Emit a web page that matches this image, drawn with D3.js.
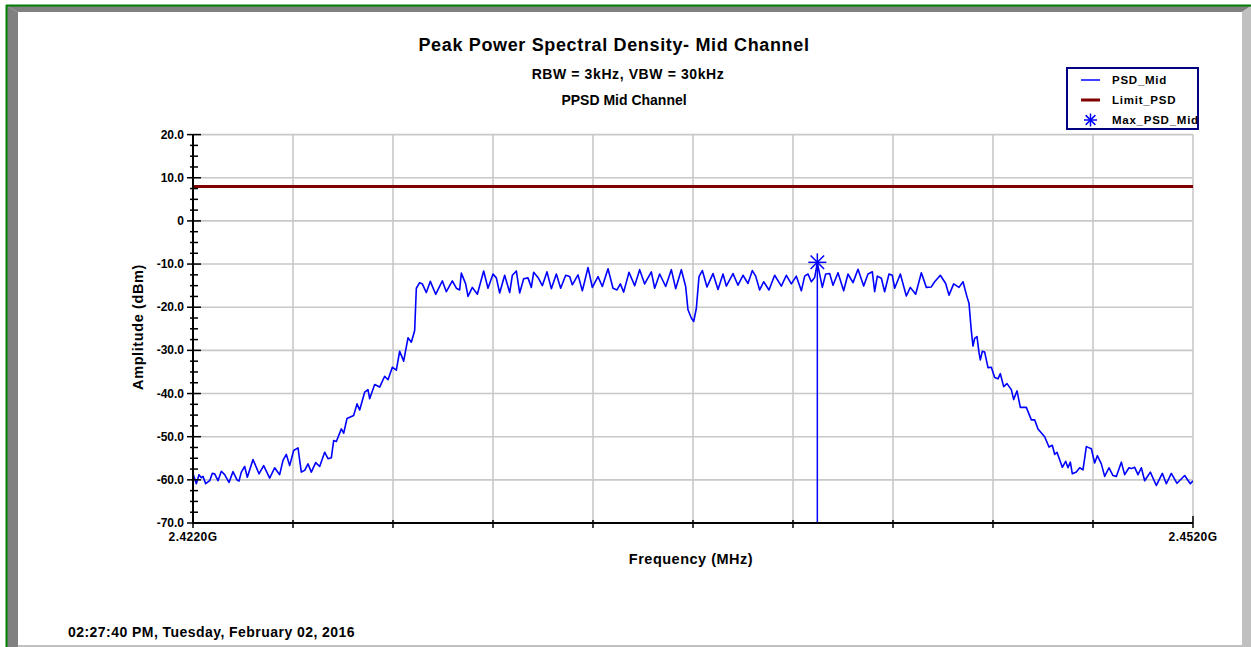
<!DOCTYPE html>
<html>
<head>
<meta charset="utf-8">
<script src="https://cdn.jsdelivr.net/npm/d3@7"></script>
<style>
  body { margin: 0; background: #ffffff; }
  svg { display: block; font-family: "Liberation Sans", Arial, sans-serif; font-weight: bold; }
</style>
</head>
<body>
<svg width="1251" height="647"></svg>
<script>
const freqMHz = [
  2422.00, 2422.10, 2422.18, 2422.25, 2422.30, 2422.38, 2422.50, 2422.58, 2422.65, 2422.75,
  2422.85, 2422.95, 2423.08, 2423.20, 2423.32, 2423.38, 2423.45, 2423.55, 2423.63, 2423.80,
  2423.98, 2424.12, 2424.30, 2424.45, 2424.60, 2424.70, 2424.80, 2424.90, 2425.02, 2425.15,
  2425.25, 2425.35, 2425.45, 2425.55, 2425.68, 2425.80, 2425.95, 2426.05, 2426.15, 2426.22,
  2426.30, 2426.45, 2426.52, 2426.62, 2426.82, 2426.92, 2427.00, 2427.15, 2427.25, 2427.30,
  2427.45, 2427.60, 2427.75, 2427.85, 2427.98, 2428.10, 2428.20, 2428.32, 2428.45, 2428.55,
  2428.65, 2428.70, 2428.80, 2428.88, 2429.00, 2429.12, 2429.28, 2429.48, 2429.60, 2429.78,
  2429.90, 2430.00, 2430.05, 2430.18, 2430.25, 2430.38, 2430.53, 2430.72, 2430.85, 2431.00,
  2431.10, 2431.20, 2431.35, 2431.50, 2431.58, 2431.70, 2431.80, 2431.92, 2432.05, 2432.15,
  2432.22, 2432.35, 2432.48, 2432.62, 2432.75, 2432.90, 2433.03, 2433.18, 2433.30, 2433.38,
  2433.55, 2433.68, 2433.85, 2433.98, 2434.15, 2434.28, 2434.45, 2434.60, 2434.72, 2434.82,
  2434.92, 2435.08, 2435.25, 2435.40, 2435.55, 2435.75, 2435.85, 2436.00, 2436.18, 2436.35,
  2436.48, 2436.65, 2436.78, 2436.85, 2436.95, 2437.02, 2437.10, 2437.18, 2437.28, 2437.42,
  2437.60, 2437.75, 2437.90, 2438.00, 2438.20, 2438.35, 2438.50, 2438.65, 2438.78, 2438.88,
  2439.00, 2439.12, 2439.28, 2439.45, 2439.65, 2439.80, 2439.95, 2440.10, 2440.25, 2440.35,
  2440.45, 2440.55, 2440.65, 2440.73, 2440.88, 2440.98, 2441.10, 2441.20, 2441.35, 2441.52,
  2441.65, 2441.80, 2441.95, 2442.12, 2442.25, 2442.38, 2442.45, 2442.53, 2442.65, 2442.75,
  2442.88, 2442.98, 2443.05, 2443.22, 2443.40, 2443.52, 2443.68, 2443.85, 2444.00, 2444.15,
  2444.25, 2444.42, 2444.58, 2444.68, 2444.82, 2444.98, 2445.10, 2445.22, 2445.28, 2445.35,
  2445.40, 2445.45, 2445.52, 2445.58, 2445.62, 2445.68, 2445.75, 2445.85, 2445.95, 2446.05,
  2446.15, 2446.22, 2446.32, 2446.42, 2446.55, 2446.62, 2446.72, 2446.82, 2447.00, 2447.15,
  2447.25, 2447.35, 2447.55, 2447.68, 2447.78, 2447.85, 2447.92, 2448.08, 2448.18, 2448.25,
  2448.32, 2448.38, 2448.50, 2448.60, 2448.70, 2448.80, 2448.95, 2449.05, 2449.13, 2449.25,
  2449.35, 2449.48, 2449.60, 2449.70, 2449.85, 2449.95, 2450.08, 2450.15, 2450.25, 2450.35,
  2450.45, 2450.55, 2450.72, 2450.90, 2451.08, 2451.20, 2451.35, 2451.52, 2451.75, 2451.92,
  2452.00
];

const psdDbm = [
  -58.6, -60.9, -58.8, -59.5, -59.2, -60.9, -60.2, -58.5, -58.6, -60.2,
  -58.0, -58.8, -60.6, -58.1, -60.0, -60.3, -58.2, -56.9, -59.4, -55.3,
  -58.6, -56.7, -59.6, -57.2, -58.8, -55.5, -54.1, -56.7, -53.2, -52.6,
  -58.2, -57.8, -56.3, -58.2, -56.0, -56.9, -53.6, -55.1, -54.9, -50.9,
  -51.1, -48.2, -49.2, -45.8, -45.1, -42.4, -43.8, -39.7, -39.1, -41.2,
  -37.9, -38.5, -36.0, -36.8, -33.9, -34.6, -30.2, -32.5, -27.1, -28.1,
  -25.4, -15.6, -14.3, -14.6, -16.6, -14.0, -17.0, -13.9, -16.4, -13.9,
  -15.6, -16.0, -12.1, -14.6, -17.5, -15.4, -17.0, -11.6, -15.6, -12.3,
  -13.2, -16.7, -12.6, -16.6, -12.6, -11.6, -16.7, -13.4, -13.2, -15.4,
  -11.9, -13.1, -15.0, -11.8, -15.7, -12.3, -15.6, -12.6, -12.9, -14.8,
  -12.5, -16.2, -10.8, -15.4, -12.9, -15.2, -11.1, -15.6, -16.0, -14.6,
  -16.5, -11.9, -15.0, -11.3, -14.6, -11.8, -15.6, -12.3, -15.2, -11.3,
  -15.7, -11.3, -15.2, -20.6, -22.5, -23.3, -20.3, -12.9, -11.5, -15.3,
  -12.2, -15.9, -12.3, -15.1, -12.2, -14.9, -12.6, -14.5, -11.5, -12.8,
  -16.0, -14.1, -16.0, -12.6, -15.1, -12.6, -14.6, -12.8, -16.2, -12.8,
  -12.3, -14.1, -13.1, -9.7, -15.4, -12.3, -12.2, -14.9, -12.0, -16.2,
  -12.3, -14.3, -11.2, -15.1, -12.3, -11.8, -16.4, -12.8, -13.3, -16.4,
  -12.3, -12.6, -15.6, -12.3, -17.4, -15.4, -17.0, -12.0, -15.4, -15.3,
  -14.1, -12.6, -14.5, -17.2, -14.6, -15.4, -14.1, -17.6, -19.1, -25.5,
  -29.0, -27.2, -26.8, -30.5, -32.2, -30.2, -30.4, -34.0, -33.9, -36.3,
  -36.6, -35.4, -38.4, -37.7, -39.1, -41.4, -39.4, -43.2, -43.2, -46.1,
  -46.1, -48.2, -50.0, -52.4, -52.0, -54.1, -53.6, -57.1, -55.7, -57.2,
  -55.9, -58.6, -58.2, -57.2, -57.7, -52.3, -52.8, -56.1, -54.4, -56.3,
  -59.2, -57.2, -59.0, -59.2, -55.9, -58.8, -57.2, -57.4, -57.1, -58.8,
  -57.2, -60.2, -58.2, -61.3, -58.5, -60.9, -58.5, -60.8, -59.0, -60.9,
  -60.2
];

const limitDbm = 8.0;
const maxFreqMHz = 2440.73;
const maxDbm = -9.6;

const yMajorTicks = [20, 10, 0, -10, -20, -30, -40, -50, -60, -70];
const yTickLabels = ["20.0", "10.0", "0", "-10.0", "-20.0", "-30.0", "-40.0", "-50.0", "-60.0", "-70.0"];
const xGridTicks = [2422, 2425, 2428, 2431, 2434, 2437, 2440, 2443, 2446, 2449, 2452];
const xTickLabels = ["2.4220G", "2.4520G"];
const legendNames = ["PSD_Mid", "Limit_PSD", "Max_PSD_Mid"];

main();

function main() {
  const canvas = d3.select("svg");
  drawFrame(canvas);
  render(canvas);
}

function drawFrame(canvas) {
  const W = 1251;
  const H = 647;
  canvas.append("rect").attr("width", W).attr("height", H).attr("fill", "#ffffff");

  // bevel: dark top/left, light right/bottom
  canvas.append("polygon")
    .attr("points", `7,6 ${W},6 1242,12 18,12`)
    .attr("fill", "#808080");
  canvas.append("polygon")
    .attr("points", `7,6 18,12 18,${H} 7,${H}`)
    .attr("fill", "#808080");
  canvas.append("polygon")
    .attr("points", `1242,12 ${W},6 ${W},${H} 1242,${H}`)
    .attr("fill", "#c0c0c0");
  canvas.append("rect")
    .attr("x", 18).attr("y", 645).attr("width", 1224).attr("height", 2)
    .attr("fill", "#c0c0c0");

  // green outline
  canvas.append("line")
    .attr("x1", 6).attr("x2", W).attr("y1", 5.5).attr("y2", 5.5)
    .attr("stroke", "#008000").attr("stroke-width", 2);
  canvas.append("line")
    .attr("x1", 6.5).attr("x2", 6.5).attr("y1", 5).attr("y2", H)
    .attr("stroke", "#008000").attr("stroke-width", 2);
}

function render(canvas) {
  const paddingLeft = 193;
  const paddingRight = 1193;
  const paddingTop = 134.6;
  const paddingBottom = 523;

  const xScale = d3.scaleLinear().domain([2422, 2452]).range([paddingLeft, paddingRight]);
  const yScale = d3.scaleLinear().domain([-70, 20]).range([paddingBottom, paddingTop]);

  // grid
  const grid = canvas.append("g").attr("stroke", "#c8c8c8").attr("stroke-width", 1.6);
  grid.selectAll("line.h")
    .data(yMajorTicks)
    .join("line")
    .attr("class", "h")
    .attr("x1", paddingLeft)
    .attr("x2", paddingRight)
    .attr("y1", (d) => yScale(d))
    .attr("y2", (d) => yScale(d));
  grid.selectAll("line.v")
    .data(xGridTicks)
    .join("line")
    .attr("class", "v")
    .attr("x1", (d) => xScale(d))
    .attr("x2", (d) => xScale(d))
    .attr("y1", paddingTop)
    .attr("y2", paddingBottom);

  canvas.append("clipPath").attr("id", "plot-clip")
    .append("rect")
    .attr("x", paddingLeft).attr("y", paddingTop)
    .attr("width", paddingRight - paddingLeft).attr("height", paddingBottom - paddingTop);

  const plot = canvas.append("g").attr("clip-path", "url(#plot-clip)");

  // limit line
  plot.append("line")
    .attr("x1", xScale(2422))
    .attr("x2", xScale(2452))
    .attr("y1", yScale(limitDbm))
    .attr("y2", yScale(limitDbm))
    .attr("stroke", "#800000")
    .attr("stroke-width", 3);

  // trace
  const line = d3.line()
    .x((d, i) => xScale(freqMHz[i]))
    .y((d) => yScale(d));
  plot.append("path")
    .datum(psdDbm)
    .attr("d", line)
    .attr("fill", "none")
    .attr("stroke", "#0000ff")
    .attr("stroke-width", 1.6)
    .attr("stroke-linejoin", "round");

  // max marker
  plot.append("line")
    .attr("x1", xScale(maxFreqMHz))
    .attr("x2", xScale(maxFreqMHz))
    .attr("y1", yScale(maxDbm))
    .attr("y2", yScale(-70))
    .attr("stroke", "#0000ff")
    .attr("stroke-width", 1.5);
  drawStar(canvas, xScale(maxFreqMHz), yScale(maxDbm), 9);

  // axes
  const axes = canvas.append("g").attr("stroke", "#000000");
  axes.append("line")
    .attr("x1", paddingLeft).attr("x2", paddingLeft)
    .attr("y1", paddingTop).attr("y2", paddingBottom + 1)
    .attr("stroke-width", 2);
  axes.append("line")
    .attr("x1", paddingLeft).attr("x2", paddingRight)
    .attr("y1", paddingBottom).attr("y2", paddingBottom)
    .attr("stroke-width", 2);

  const minorTicks = d3.range(-70, 20.01, 2.5).filter((v) => v % 10 !== 0);
  axes.selectAll("line.ymin")
    .data(minorTicks)
    .join("line")
    .attr("class", "ymin")
    .attr("x1", paddingLeft - 3)
    .attr("x2", paddingLeft + 5)
    .attr("y1", (d) => yScale(d))
    .attr("y2", (d) => yScale(d))
    .attr("stroke-width", 1.5);
  axes.selectAll("line.ymaj")
    .data(yMajorTicks)
    .join("line")
    .attr("class", "ymaj")
    .attr("x1", paddingLeft - 6)
    .attr("x2", paddingLeft + 8)
    .attr("y1", (d) => yScale(d))
    .attr("y2", (d) => yScale(d))
    .attr("stroke-width", 1.5);
  axes.selectAll("line.xmaj")
    .data(xGridTicks)
    .join("line")
    .attr("class", "xmaj")
    .attr("x1", (d) => xScale(d))
    .attr("x2", (d) => xScale(d))
    .attr("y1", (d, i) => (i === xGridTicks.length - 1 ? paddingBottom - 7 : paddingBottom - 3))
    .attr("y2", paddingBottom + 5)
    .attr("stroke-width", 1.5);

  canvas.append("g")
    .selectAll("text")
    .data(yMajorTicks)
    .join("text")
    .attr("x", paddingLeft - 9)
    .attr("y", (d) => yScale(d) + 4)
    .attr("text-anchor", "end")
    .attr("font-size", 12)
    .text((d, i) => yTickLabels[i]);

  canvas.append("g")
    .selectAll("text")
    .data([2422, 2452])
    .join("text")
    .attr("x", (d) => xScale(d))
    .attr("y", paddingBottom + 18)
    .attr("text-anchor", "middle")
    .attr("font-size", 12)
    .attr("letter-spacing", 0.4)
    .text((d, i) => xTickLabels[i]);

  // titles
  canvas.append("text")
    .text("Peak Power Spectral Density- Mid Channel")
    .attr("x", 614).attr("y", 51)
    .attr("text-anchor", "middle")
    .attr("font-size", 18)
    .attr("letter-spacing", 0.65);
  canvas.append("text")
    .text("RBW = 3kHz, VBW = 30kHz")
    .attr("x", 628).attr("y", 79)
    .attr("text-anchor", "middle")
    .attr("font-size", 14)
    .attr("letter-spacing", 0.6);
  canvas.append("text")
    .text("PPSD Mid Channel")
    .attr("x", 624).attr("y", 105)
    .attr("text-anchor", "middle")
    .attr("font-size", 14);

  canvas.append("text")
    .text("Frequency (MHz)")
    .attr("x", 691).attr("y", 564)
    .attr("text-anchor", "middle")
    .attr("font-size", 14.5)
    .attr("letter-spacing", 0.5);
  canvas.append("text")
    .text("Amplitude (dBm)")
    .attr("x", 143).attr("y", 327)
    .attr("text-anchor", "middle")
    .attr("font-size", 14.5)
    .attr("letter-spacing", 0.6)
    .attr("transform", "rotate(-90 143 327)");

  canvas.append("text")
    .text("02:27:40 PM, Tuesday, February 02, 2016")
    .attr("x", 68).attr("y", 637)
    .attr("font-size", 14)
    .attr("letter-spacing", 0.45);

  drawLegend(canvas);
}

function drawStar(g, cx, cy, r) {
  const d = r * 0.75;
  const star = g.append("g").attr("stroke", "#0000ff").attr("stroke-width", 1.5);
  star.append("line").attr("x1", cx).attr("x2", cx).attr("y1", cy - r).attr("y2", cy + r);
  star.append("line").attr("x1", cx - r).attr("x2", cx + r).attr("y1", cy).attr("y2", cy);
  star.append("line").attr("x1", cx - d).attr("x2", cx + d).attr("y1", cy - d).attr("y2", cy + d);
  star.append("line").attr("x1", cx - d).attr("x2", cx + d).attr("y1", cy + d).attr("y2", cy - d);
}

function drawLegend(canvas) {
  const lx = 1067;
  const ly = 68;
  const legend = canvas.append("g");
  legend.append("rect")
    .attr("x", lx).attr("y", ly)
    .attr("width", 131).attr("height", 61)
    .attr("fill", "#ffffff")
    .attr("stroke", "#000080")
    .attr("stroke-width", 2);

  const rowY = (i) => ly + 12 + i * 20;

  legend.append("line")
    .attr("x1", lx + 14).attr("x2", lx + 33)
    .attr("y1", rowY(0)).attr("y2", rowY(0))
    .attr("stroke", "#0000ff").attr("stroke-width", 1.5);
  legend.append("line")
    .attr("x1", lx + 14).attr("x2", lx + 33)
    .attr("y1", rowY(1)).attr("y2", rowY(1))
    .attr("stroke", "#800000").attr("stroke-width", 3);
  drawStar(legend, lx + 23.5, rowY(2), 6.5);

  legend.selectAll("text")
    .data(legendNames)
    .join("text")
    .attr("x", lx + 45)
    .attr("y", (d, i) => rowY(i) + 4)
    .attr("font-size", 11.5)
    .attr("letter-spacing", 0.75)
    .text((d) => d);
}
</script>
</body>
</html>
